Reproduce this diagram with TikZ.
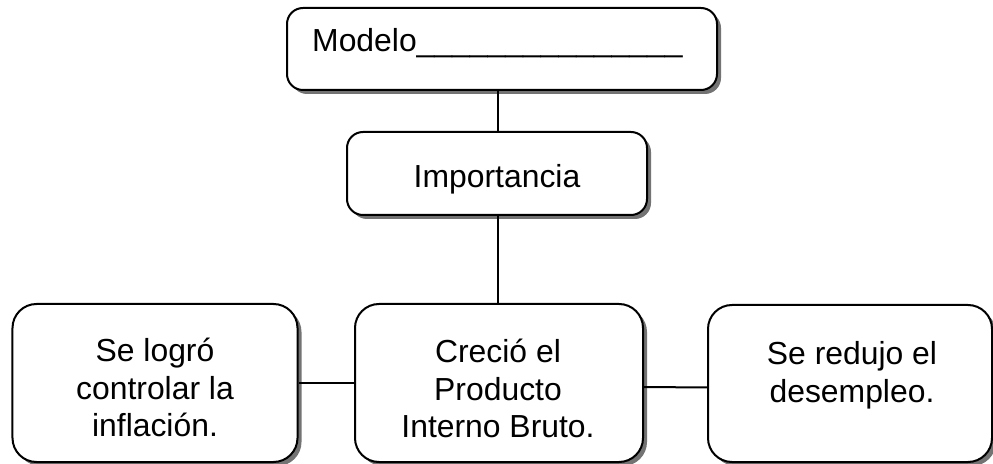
\documentclass[tikz,border=0pt]{standalone}
\usepackage{fontspec}
\setmainfont{Liberation Sans}
\usetikzlibrary{shadows}
\begin{document}
\begin{tikzpicture}[x=1bp,y=-1bp,
  box/.style={draw, line width=2bp, fill=white, rounded corners=16bp, inner sep=0pt,
    drop shadow={shadow xshift=4bp, shadow yshift=-4bp, fill=black!55, opacity=1}},
  bigbox/.style={box, rounded corners=24bp, minimum width=285bp, minimum height=158bp},
  txt/.style={font=\fontsize{32}{37.5}\selectfont, anchor=base, inner sep=0pt},
  link/.style={line width=2bp}]
\useasboundingbox (0,0) rectangle (993,464);
\coordinate (c1) at (498,90);
\node[box, minimum width=430bp, minimum height=82bp] (top) at (502,49) {};
\node[box, minimum width=300bp, minimum height=83bp] (imp) at (497,173.5) {};
\node[bigbox] (left) at (155,383) {};
\node[bigbox, minimum width=288bp] (mid) at (499,383) {};
\node[bigbox, minimum width=284bp, minimum height=157bp] (right) at (850,383.5) {};
% connectors
\draw[link] (imp.north -| c1) -- (top.south -| c1);
\draw[link] (imp.south -| c1) -- (mid.north -| c1);
\draw[link] (left.east) -- (mid.west);
\draw[link] ([yshift=-4bp]mid.east) -- ([yshift=-4bp]right.west);
% texts
\node[txt, anchor=base west] (tmodel) at (312,52) {Modelo\_\_\_\_\_\_\_\_\_\_\_\_\_\_\_};
\node[txt] (timp) at (497,188) {Importancia};
\node[txt] (tleft) at (155,362) {\begin{tabular}[t]{@{}c@{}}Se logró\\controlar la\\inflación.\end{tabular}};
\node[txt] (tmid) at (498,363) {\begin{tabular}[t]{@{}c@{}}Creció el\\Producto\\Interno Bruto.\end{tabular}};
\node[txt] (tright) at (852,365) {\begin{tabular}[t]{@{}c@{}}Se redujo el\\desempleo.\end{tabular}};
\end{tikzpicture}
\end{document}
